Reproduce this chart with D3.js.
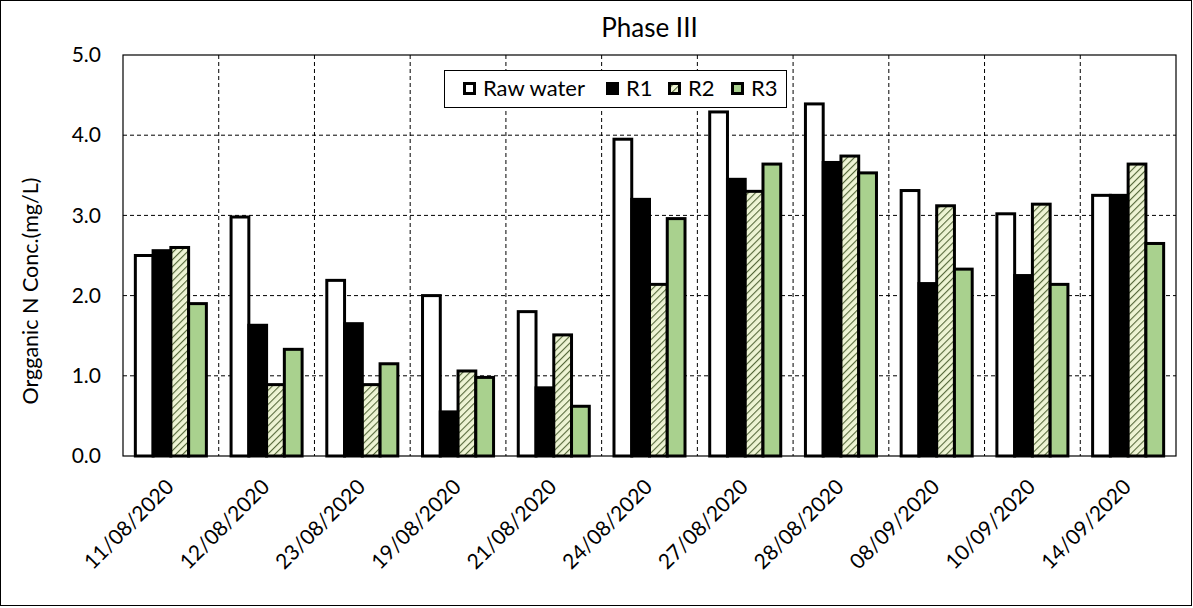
<!DOCTYPE html>
<html><head><meta charset="utf-8">
<script src="https://cdn.jsdelivr.net/npm/d3@7"></script>
<style>
html,body{margin:0;padding:0;background:#fff;}
text{font-family:Lato,"Open Sans",sans-serif;fill:#000;}
</style></head>
<body>
<svg id="chart" width="1193" height="608"></svg>
<script>
const categories = ["11/08/2020","12/08/2020","23/08/2020","19/08/2020","21/08/2020","24/08/2020","27/08/2020","28/08/2020","08/09/2020","10/09/2020","14/09/2020"];
const seriesNames = ["Raw water","R1","R2","R3"];
const rawWater = [2.50,2.98,2.19,2.00,1.80,3.95,4.29,4.39,3.31,3.02,3.25];
const r1 = [2.56,1.63,1.65,0.55,0.85,3.20,3.45,3.66,2.15,2.25,3.25];
const r2 = [2.60,0.89,0.89,1.06,1.51,2.14,3.30,3.74,3.12,3.14,3.64];
const r3 = [1.90,1.33,1.15,0.98,0.62,2.96,3.64,3.53,2.33,2.14,2.65];
const yTicks = [0,1,2,3,4,5];
const titleText = "Phase III";
const yTitle = "Orgganic N Conc.(mg/L)";

const seriesValues = [rawWater, r1, r2, r3];
const svg = d3.select("#chart");
const W = 1193, H = 608;
const pLeft = 123, pRight = 1176, pTop = 55, pBottom = 456;

svg.append("rect").attr("x",0.5).attr("y",0.5).attr("width",W-2).attr("height",H-3)
  .attr("fill","#fff").attr("stroke","#000").attr("stroke-width",1);

const defs = svg.append("defs");
const pat = defs.append("pattern").attr("id","hatch").attr("patternUnits","userSpaceOnUse")
  .attr("width",5).attr("height",5).attr("patternTransform","rotate(45)");
pat.append("rect").attr("width",5).attr("height",5).attr("fill","#eef4d4");
pat.append("line").attr("x1",0).attr("y1",0).attr("x2",0).attr("y2",5)
  .attr("stroke","#55683a").attr("stroke-width",2.2);

const fills = ["#ffffff","#000000","url(#hatch)","#a9d18e"];

const x = d3.scaleBand().domain(categories).range([pLeft,pRight]).paddingInner(0.258).paddingOuter(0.129);
const xs = d3.scaleBand().domain(seriesNames).range([0,x.bandwidth()]);
const y = d3.scaleLinear().domain([0,5]).range([pBottom,pTop]);

svg.append("g").selectAll("line").data(yTicks.filter(t=>t>0 && t<5)).join("line")
  .attr("x1",pLeft).attr("x2",pRight).attr("y1",d=>y(d)).attr("y2",d=>y(d))
  .attr("stroke","#000").attr("stroke-width",1).attr("stroke-dasharray","4,3");
const step = x.step();
svg.append("g").selectAll("line").data(d3.range(1,categories.length)).join("line")
  .attr("x1",d=>pLeft+d*step).attr("x2",d=>pLeft+d*step).attr("y1",pTop).attr("y2",pBottom)
  .attr("stroke","#000").attr("stroke-width",1).attr("stroke-dasharray","4,3");

const data = [];
categories.forEach((c,i)=>seriesNames.forEach((s,j)=>data.push({c,s,j,v:seriesValues[j][i]})));
svg.append("g").selectAll("rect").data(data).join("rect")
  .attr("x",d=>x(d.c)+xs(d.s)).attr("width",xs.bandwidth())
  .attr("y",d=>y(d.v)).attr("height",d=>y(0)-y(d.v))
  .attr("fill",d=>fills[d.j]).attr("stroke","#000").attr("stroke-width",3);

svg.append("rect").attr("x",pLeft).attr("y",pTop).attr("width",pRight-pLeft).attr("height",pBottom-pTop)
  .attr("fill","none").attr("stroke","#000").attr("stroke-width",1.2);

const ya = svg.append("g").attr("transform",`translate(${pLeft},0)`)
  .call(d3.axisLeft(y).tickValues(yTicks).tickFormat(d3.format(".1f")).tickSize(0).tickPadding(22));
ya.select(".domain").remove();
ya.selectAll("text").style("font-size","21px").style("font-family","Lato,'Open Sans',sans-serif").attr("fill","#000");

const xa = svg.append("g").attr("transform",`translate(0,${pBottom})`)
  .call(d3.axisBottom(x).tickSize(0));
xa.select(".domain").remove();
xa.selectAll("text").style("font-size","21px").style("font-family","Lato,'Open Sans',sans-serif").attr("fill","#000")
  .attr("text-anchor","end").attr("dy","0.35em").attr("y",0)
  .attr("transform","translate(-1,27) rotate(-45)");

svg.append("text").attr("x",(pLeft+pRight)/2).attr("y",37).attr("text-anchor","middle")
  .style("font-size","26px").text(titleText);
svg.append("text").attr("transform",`translate(38,291) rotate(-90)`).attr("text-anchor","middle")
  .style("font-size","21.5px").text(yTitle);

const lg = svg.append("g");
lg.append("rect").attr("x",444.5).attr("y",70.5).attr("width",342).attr("height",37)
  .attr("fill","#fff").attr("stroke","#000").attr("stroke-width",1);
const legX = [463,606,668,731];
seriesNames.forEach((s,j)=>{
  lg.append("rect").attr("x",legX[j]+1.5).attr("y",83.5).attr("width",10).attr("height",10)
    .attr("fill",fills[j]).attr("stroke","#000").attr("stroke-width",3);
  lg.append("text").attr("x",legX[j]+20).attr("y",96).style("font-size","22px").text(s);
});
</script>
</body></html>
